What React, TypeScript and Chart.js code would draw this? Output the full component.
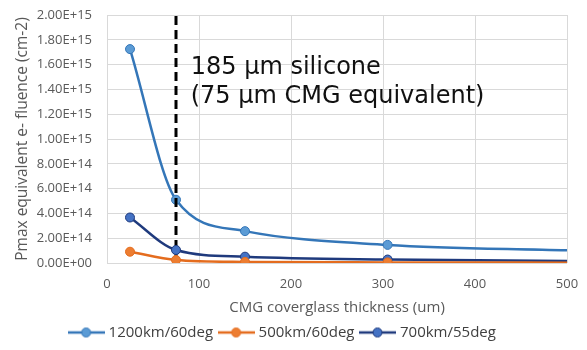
import React, { useEffect, useRef } from "react";
import { Chart, registerables } from "chart.js";

Chart.register(...registerables);

const thickness1200 = [25, 75, 150, 305, 500];
const fluence1200 = [1.725e15, 5.1e14, 2.57e14, 1.46e14, 1.02e14];

const thickness500 = [25, 75, 150, 305, 500];
const fluence500 = [9.1e13, 2.4e13, 9e12, 5e12, 3e12];

const thickness700 = [25, 75, 150, 305, 500];
const fluence700 = [3.67e14, 1.05e14, 5.1e13, 2.8e13, 1.7e13];

const markerShown = [true, true, true, true, false];

const seriesNames = ["1200km/60deg", "500km/60deg", "700km/55deg"];

const yTickLabels = [
  "0.00E+00", "2.00E+14", "4.00E+14", "6.00E+14", "8.00E+14", "1.00E+15",
  "1.20E+15", "1.40E+15", "1.60E+15", "1.80E+15", "2.00E+15",
];

const cutoffThickness = 75;
const annotationLines = ["185 µm silicone", "(75 µm CMG equivalent)"];

const xTitle = "CMG coverglass thickness (um)";
const yTitle = "Pmax equivalent e- fluence (cm-2)";

function legendIcon(line: string, fill: string): HTMLCanvasElement {
  const c = document.createElement("canvas");
  c.width = 37;
  c.height = 12;
  const ctx = c.getContext("2d")!;
  ctx.strokeStyle = line;
  ctx.lineWidth = 2.5;
  ctx.beginPath();
  ctx.moveTo(0, 6);
  ctx.lineTo(37, 6);
  ctx.stroke();
  ctx.beginPath();
  ctx.arc(18.5, 6, 4.5, 0, Math.PI * 2);
  ctx.fillStyle = fill;
  ctx.fill();
  ctx.lineWidth = 1;
  ctx.stroke();
  return c;
}

export default function App() {
  const ref = useRef<HTMLCanvasElement | null>(null);

  useEffect(() => {
    document.body.style.margin = "0";
    if (!ref.current) return;

    const styles = [
      { line: "#3476B8", fill: "#5B9BD5" },
      { line: "#E46C1E", fill: "#ED7D31" },
      { line: "#1F3A7D", fill: "#4472C4" },
    ];
    const drawOrder = [4, 1, 2];
    const icons = styles.map((s) => legendIcon(s.line, s.fill));

    const mk = (xs: number[], ys: number[]) => xs.map((x, i) => ({ x, y: ys[i] }));
    const radii = markerShown.map((m) => (m ? 4.5 : 0));

    const seriesData = [
      mk(thickness1200, fluence1200),
      mk(thickness500, fluence500),
      mk(thickness700, fluence700),
    ];

    const annotationPlugin = {
      id: "annotationText",
      afterDatasetsDraw(chart: any) {
        const { ctx, scales } = chart;
        const x = scales.x.getPixelForValue(91);
        const y = scales.y.getPixelForValue(1.522e15);
        ctx.save();
        ctx.font = '24px "DejaVu Sans"';
        ctx.fillStyle = "#111111";
        ctx.textAlign = "left";
        ctx.textBaseline = "alphabetic";
        annotationLines.forEach((t, i) => ctx.fillText(t, x, y + i * 29));
        ctx.restore();
      },
    };

    const chart = new Chart(ref.current, {
      type: "line",
      data: {
        datasets: [
          ...seriesData.map((d, i) => ({
            label: seriesNames[i],
            data: d,
            borderColor: styles[i].line,
            backgroundColor: styles[i].fill,
            pointBackgroundColor: styles[i].fill,
            pointBorderColor: styles[i].line,
            pointBorderWidth: 1,
            pointRadius: radii,
            borderWidth: 2.5,
            cubicInterpolationMode: "monotone" as const,
            fill: false,
            order: drawOrder[i],
          })),
          {
            label: "cutoff",
            data: [
              { x: cutoffThickness, y: 0 },
              { x: cutoffThickness, y: 2e15 },
            ],
            borderColor: "#000000",
            borderWidth: 3,
            borderDash: [9, 5],
            pointRadius: 0,
            fill: false,
            order: 3,
          },
        ],
      },
      options: {
        animation: false,
        responsive: false,
        maintainAspectRatio: false,
        layout: { padding: { left: 0, right: 20, top: 15, bottom: 0 } },
        plugins: {
          tooltip: { enabled: false },
          legend: {
            position: "bottom",
            labels: {
              usePointStyle: true,
              pointStyleWidth: 30,
              color: "#404040",
              font: { family: "Open Sans", size: 15 },
              padding: 8,
              generateLabels: () =>
                seriesNames.map((n, i) => ({
                  text: n,
                  datasetIndex: i,
                  pointStyle: icons[i],
                  fillStyle: styles[i].fill,
                  strokeStyle: styles[i].line,
                  lineWidth: 0,
                  hidden: false,
                  fontColor: "#404040",
                })),
            },
          },
        },
        scales: {
          x: {
            type: "linear",
            min: 0,
            max: 500,
            ticks: {
              stepSize: 100,
              padding: 0,
              color: "#595959",
              font: { family: "Open Sans", size: 13 },
            },
            grid: {
              color: "#d9d9d9",
              drawTicks: true,
              tickLength: 13,
              tickColor: "rgba(0,0,0,0)",
              lineWidth: 1,
            },
            border: { display: false },
            title: {
              display: true,
              text: xTitle,
              color: "#595959",
              font: { family: "Open Sans", size: 15 },
              padding: { top: 0, bottom: 0 },
            },
            afterFit: (s: any) => {
              s.height = 54;
            },
          },
          y: {
            type: "linear",
            min: 0,
            max: 2e15,
            ticks: {
              stepSize: 2e14,
              padding: 0,
              color: "#595959",
              font: { family: "Open Sans", size: 13 },
              callback: (_v: any, i: number) => yTickLabels[i],
            },
            grid: {
              color: "#d9d9d9",
              drawTicks: true,
              tickLength: 15,
              tickColor: "rgba(0,0,0,0)",
              lineWidth: 1,
            },
            border: { display: false },
            title: {
              display: true,
              text: yTitle,
              color: "#595959",
              font: { family: "Open Sans", size: 15.5 },
              padding: { top: 13, bottom: 0 },
            },
            afterFit: (s: any) => {
              s.width = 107;
            },
          },
        },
      },
      plugins: [annotationPlugin],
    });

    return () => chart.destroy();
  }, []);

  return (
    <div style={{ width: 587, height: 350 }}>
      <canvas ref={ref} width={587} height={350} style={{ display: "block" }} />
    </div>
  );
}
